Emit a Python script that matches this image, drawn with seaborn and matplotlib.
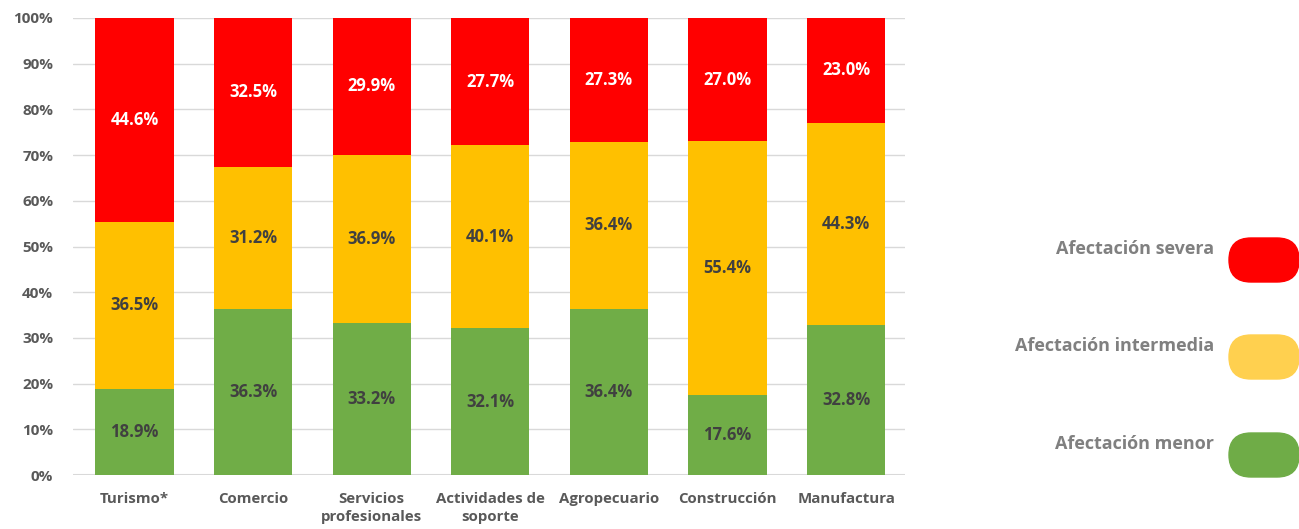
import matplotlib
matplotlib.use("Agg")
import matplotlib.pyplot as plt
import seaborn as sns
import pandas as pd
from matplotlib.patches import FancyBboxPatch

sectores = ["Turismo*", "Comercio", "Servicios\nprofesionales", "Actividades de\nsoporte",
            "Agropecuario", "Construcción", "Manufactura"]
menor = [18.9, 36.3, 33.2, 32.1, 36.4, 17.6, 32.8]
intermedia = [36.5, 31.2, 36.9, 40.1, 36.4, 55.4, 44.3]
severa = [44.6, 32.5, 29.9, 27.7, 27.3, 27.0, 23.0]

series = ["Afectación severa", "Afectación intermedia", "Afectación menor"]
col_bar = {"Afectación menor": "#70AD47", "Afectación intermedia": "#FFC000", "Afectación severa": "#FF0000"}
col_leg = {"Afectación menor": "#6FAC47", "Afectación intermedia": "#FFD04F", "Afectación severa": "#FF0000"}
col_txt = {"Afectación menor": "#404040", "Afectación intermedia": "#404040", "Afectación severa": "white"}

df = pd.DataFrame({"sector": sectores, "Afectación menor": menor,
                   "Afectación intermedia": intermedia, "Afectación severa": severa})

sns.set_style("white")
plt.rcParams["font.family"] = ["Open Sans", "DejaVu Sans"]

fig = plt.figure(figsize=(12.99, 5.29), dpi=100)
ax = fig.add_axes([0.056, 0.102, 0.641, 0.864])

base = [0.0] * len(sectores)
for s in ["Afectación menor", "Afectación intermedia", "Afectación severa"]:
    sns.barplot(data=df, x="sector", y=s, bottom=base, color=col_bar[s],
                width=0.66, saturation=1, linewidth=0, ax=ax, zorder=3)
    for i, v in enumerate(df[s]):
        ax.text(i, base[i] + v / 2, f"{v:.1f}%", ha="center", va="center",
                fontsize=12, fontweight="bold", color=col_txt[s], zorder=4)
    base = [b + v for b, v in zip(base, df[s])]

ax.set_ylim(0, 100)
ax.set_xlim(-0.52, 6.5)
ax.set_yticks(range(0, 101, 10))
ax.set_yticklabels([f"{t}%" for t in range(0, 101, 10)])
ax.yaxis.grid(True, color="#d9d9d9", lw=1, zorder=0)
ax.set_xlabel("")
ax.set_ylabel("")
for sp in ax.spines.values():
    sp.set_visible(False)
ax.axhline(0, color="#d9d9d9", lw=1.5, zorder=2)
ax.tick_params(axis="x", length=0, labelsize=10.8, labelcolor="#595959", pad=12)
ax.tick_params(axis="y", length=0, labelsize=11, labelcolor="#595959", pad=14)
for lab in ax.get_xticklabels() + ax.get_yticklabels():
    lab.set_fontweight("bold")
    lab.set_linespacing(1.35)

# legend drawn by hand on the right
tops = [238, 335, 433]
for s, top in zip(series, tops):
    y0 = (529 - top - 44) / 100
    fig.patches.append(FancyBboxPatch((12.29, y0), 0.70, 0.44,
                                      boxstyle="round,pad=0,rounding_size=0.22",
                                      transform=fig.dpi_scale_trans, color=col_leg[s]))
    fig.text(12.14, y0 + 0.33, s, transform=fig.dpi_scale_trans, ha="right", va="center",
             fontsize=13, fontweight="bold", color="#808080")

fig.savefig("out.png", dpi=100)
